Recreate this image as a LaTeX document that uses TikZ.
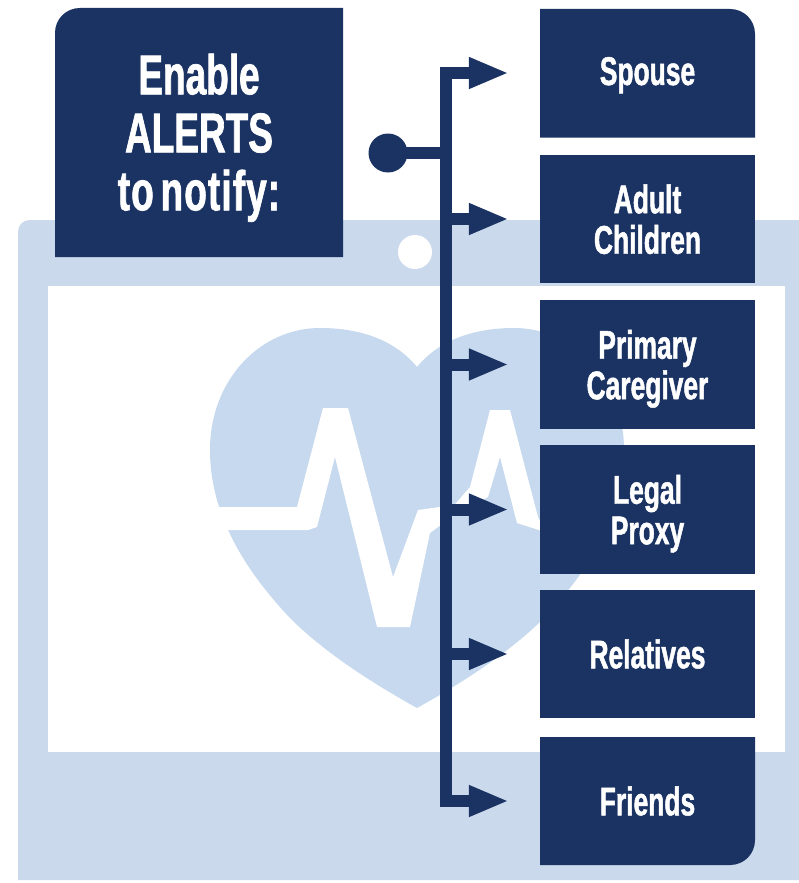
\documentclass[tikz,border=0pt]{standalone}
\usepackage{fontspec}
\setmainfont{Liberation Sans}[FakeStretch=0.66,BoldFeatures={FakeBold=1.2},WordSpace=0.6]
\usetikzlibrary{arrows.meta}
\definecolor{navy}{HTML}{1B3363}
\definecolor{framec}{HTML}{CBD9EC}
\definecolor{heartc}{HTML}{C6D9EE}
\newcommand{\nodepth}[1]{\raisebox{0pt}[\height][0pt]{#1}}
\tikzset{
  x=1pt,y=-1pt,
  boxnode/.style={rectangle,inner sep=0pt,minimum width=215pt,minimum height=128.5pt,text=white,align=center,font=\fontsize{40}{40.5}\selectfont\bfseries},
  filled/.style={fill=navy},
  conn/.style={draw=navy,line width=12pt,line cap=butt,line join=miter},
  arrowed/.style={conn,-{Triangle[length=40pt,width=29pt]},shorten >=31pt},
}
\begin{document}
\begin{tikzpicture}
\useasboundingbox (0,0) rectangle (799,883);
\fill[white] (0,0) rectangle (799,883);
% tablet frame
\fill[framec] (799,220) -- (30,220) .. controls (23,220) and (18,225) .. (18,232) -- (18,880) -- (799,880) -- cycle;
\fill[white] (48,286) rectangle (785,752);
\fill[white] (415,252) circle[radius=17];
% heart
\fill[heartc] (417,367) .. controls (395,340) and (360,328) .. (320,328)
  .. controls (260,328) and (210,380) .. (210,450)
  .. controls (210,510) and (240,565) .. (290,618)
  .. controls (330,658) and (385,690) .. (417,708)
  .. controls (449,690) and (504,658) .. (544,618)
  .. controls (594,565) and (624,510) .. (624,450)
  .. controls (624,380) and (574,328) .. (514,328)
  .. controls (474,328) and (439,340) .. (417,367) -- cycle;
% heartbeat
\fill[white] (200,507) -- (297,507) -- (323,408) -- (348,408) -- (393,577) -- (418,510) -- (440,507)
  -- (450,510) -- (470,487) -- (490,410) -- (510,410) -- (538,517) -- (545,532) -- (517,523)
  -- (500,457) -- (488,497) -- (457,513) -- (430,533) -- (410,627) -- (377,627) -- (335,457)
  -- (317,527) -- (308,530) -- (200,530) -- cycle;
% box shapes with a rounded corner
\fill[navy] (343,8) -- (343,257) -- (55,257) -- (55,33) .. controls (55,19) and (66,8) .. (80,8) -- cycle;
\fill[navy] (540,9) -- (730,9) .. controls (744,9) and (755,20) .. (755,34) -- (755,137.5) -- (540,137.5) -- cycle;
\fill[navy] (540,737) -- (755,737) -- (755,840) .. controls (755,854) and (744,865) .. (730,865) -- (540,865) -- cycle;
% text nodes
\node[boxnode,minimum width=288pt,minimum height=249pt,font=\fontsize{56}{58}\selectfont\bfseries] (enable) at (199,132) {Enable\\ALERTS\\\nodepth{\addfontfeature{LetterSpace=2}to notify:}};
\node[boxnode] (spouse) at (647.5,73) {\raisebox{2pt}[\height][0pt]{Spouse}};
\node[boxnode,filled] (adult) at (647.5,219) {Adult\\\nodepth{Children}};
\node[boxnode,filled] (primary) at (647.5,364.5) {Primary\\\nodepth{Caregiver}};
\node[boxnode,filled] (legal) at (647.5,509.5) {Legal\\\nodepth{Proxy}};
\node[boxnode,filled] (relatives) at (647.5,654) {Relatives};
\node[boxnode] (friends) at (647.5,801) {Friends};
% connectors
\node[circle,fill=navy,inner sep=0pt,minimum size=39pt] (dot) at (388,153) {};
\coordinate (bus) at (446,153);
\draw[conn] (dot.center) -- (bus);
\draw[arrowed] (bus |- friends.west) -- (bus |- spouse.west) -- (spouse.west);
\draw[arrowed] (bus |- spouse.west) -- (bus |- friends.west) -- (friends.west);
\draw[arrowed] (bus |- adult.west) -- (adult.west);
\draw[arrowed] (bus |- primary.west) -- (primary.west);
\draw[arrowed] (bus |- legal.west) -- (legal.west);
\draw[arrowed] (bus |- relatives.west) -- (relatives.west);
\end{tikzpicture}
\end{document}
